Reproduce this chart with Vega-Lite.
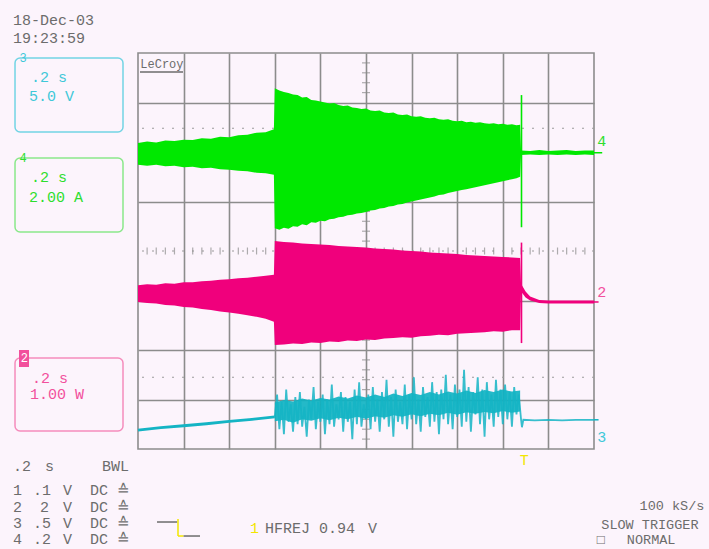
{
  "$schema": "https://vega.github.io/schema/vega-lite/v6.json",
  "width": 456,
  "height": 396,
  "autosize": {"type": "none"},
  "padding": {"left": 138, "top": 53, "right": 115, "bottom": 100},
  "background": "#fcf4fc",
  "config": {
    "view": {"stroke": "#8c8c8c", "strokeWidth": 1.6, "fill": "#fcf4fc"},
    "axis": {"grid": true, "labels": false, "ticks": false, "domain": false, "title": null, "gridColor": "#8c8c8c", "gridWidth": 1.6}
  },
  "datasets": {
    "env": [
      {"s":"g","t":0.0,"lo":5.74,"hi":6.18},{"s":"g","t":0.2,"lo":5.72,"hi":6.21},{"s":"g","t":0.4,"lo":5.74,"hi":6.19},{"s":"g","t":0.6,"lo":5.71,"hi":6.23},{"s":"g","t":0.8,"lo":5.72,"hi":6.22},{"s":"g","t":1.0,"lo":5.69,"hi":6.25},{"s":"g","t":1.2,"lo":5.70,"hi":6.24},{"s":"g","t":1.4,"lo":5.67,"hi":6.28},{"s":"g","t":1.6,"lo":5.68,"hi":6.27},{"s":"g","t":1.8,"lo":5.65,"hi":6.31},{"s":"g","t":2.0,"lo":5.64,"hi":6.30},{"s":"g","t":2.2,"lo":5.62,"hi":6.34},{"s":"g","t":2.4,"lo":5.61,"hi":6.35},{"s":"g","t":2.6,"lo":5.58,"hi":6.39},{"s":"g","t":2.8,"lo":5.57,"hi":6.40},{"s":"g","t":2.98,"lo":5.54,"hi":6.46},
      {"s":"g","t":3.0,"lo":4.46,"hi":7.29},{"s":"g","t":3.1,"lo":4.43,"hi":7.24},{"s":"g","t":3.2,"lo":4.47,"hi":7.21},{"s":"g","t":3.3,"lo":4.45,"hi":7.19},{"s":"g","t":3.4,"lo":4.50,"hi":7.16},{"s":"g","t":3.5,"lo":4.49,"hi":7.15},{"s":"g","t":3.6,"lo":4.54,"hi":7.10},{"s":"g","t":3.7,"lo":4.52,"hi":7.11},{"s":"g","t":3.8,"lo":4.58,"hi":7.05},{"s":"g","t":3.9,"lo":4.57,"hi":7.04},{"s":"g","t":4.0,"lo":4.61,"hi":7.02},{"s":"g","t":4.1,"lo":4.60,"hi":7.00},{"s":"g","t":4.2,"lo":4.64,"hi":6.98},{"s":"g","t":4.3,"lo":4.65,"hi":6.99},{"s":"g","t":4.4,"lo":4.68,"hi":6.95},{"s":"g","t":4.5,"lo":4.69,"hi":6.93},{"s":"g","t":4.6,"lo":4.72,"hi":6.94},{"s":"g","t":4.7,"lo":4.73,"hi":6.90},{"s":"g","t":4.8,"lo":4.76,"hi":6.89},{"s":"g","t":4.9,"lo":4.77,"hi":6.87},{"s":"g","t":5.0,"lo":4.79,"hi":6.88},{"s":"g","t":5.1,"lo":4.82,"hi":6.84},{"s":"g","t":5.2,"lo":4.83,"hi":6.83},{"s":"g","t":5.3,"lo":4.86,"hi":6.84},{"s":"g","t":5.4,"lo":4.87,"hi":6.80},{"s":"g","t":5.5,"lo":4.90,"hi":6.79},{"s":"g","t":5.6,"lo":4.91,"hi":6.80},{"s":"g","t":5.7,"lo":4.94,"hi":6.76},{"s":"g","t":5.8,"lo":4.95,"hi":6.75},{"s":"g","t":5.9,"lo":4.98,"hi":6.76},{"s":"g","t":6.0,"lo":5.00,"hi":6.72},{"s":"g","t":6.1,"lo":5.02,"hi":6.71},{"s":"g","t":6.2,"lo":5.04,"hi":6.72},{"s":"g","t":6.3,"lo":5.06,"hi":6.69},{"s":"g","t":6.4,"lo":5.08,"hi":6.68},{"s":"g","t":6.5,"lo":5.10,"hi":6.69},{"s":"g","t":6.6,"lo":5.13,"hi":6.66},{"s":"g","t":6.7,"lo":5.14,"hi":6.65},{"s":"g","t":6.8,"lo":5.17,"hi":6.66},{"s":"g","t":6.9,"lo":5.19,"hi":6.63},{"s":"g","t":7.0,"lo":5.21,"hi":6.62},{"s":"g","t":7.1,"lo":5.23,"hi":6.63},{"s":"g","t":7.2,"lo":5.25,"hi":6.60},{"s":"g","t":7.3,"lo":5.27,"hi":6.61},{"s":"g","t":7.4,"lo":5.29,"hi":6.59},{"s":"g","t":7.5,"lo":5.31,"hi":6.60},{"s":"g","t":7.6,"lo":5.33,"hi":6.58},{"s":"g","t":7.7,"lo":5.35,"hi":6.57},{"s":"g","t":7.8,"lo":5.37,"hi":6.58},{"s":"g","t":7.9,"lo":5.39,"hi":6.56},{"s":"g","t":8.0,"lo":5.41,"hi":6.57},{"s":"g","t":8.1,"lo":5.43,"hi":6.55},{"s":"g","t":8.2,"lo":5.45,"hi":6.56},{"s":"g","t":8.3,"lo":5.47,"hi":6.54},{"s":"g","t":8.38,"lo":5.50,"hi":6.55},
      {"s":"g","t":8.4,"lo":5.94,"hi":6.03},{"s":"g","t":8.6,"lo":5.95,"hi":6.02},{"s":"g","t":8.8,"lo":5.94,"hi":6.04},{"s":"g","t":9.0,"lo":5.95,"hi":6.02},{"s":"g","t":9.2,"lo":5.94,"hi":6.03},{"s":"g","t":9.4,"lo":5.95,"hi":6.04},{"s":"g","t":9.6,"lo":5.94,"hi":6.02},{"s":"g","t":9.8,"lo":5.95,"hi":6.03},{"s":"g","t":10.0,"lo":5.94,"hi":6.03},
      {"s":"p","t":0.0,"lo":2.97,"hi":3.31},{"s":"p","t":0.2,"lo":2.95,"hi":3.33},{"s":"p","t":0.4,"lo":2.94,"hi":3.32},{"s":"p","t":0.6,"lo":2.91,"hi":3.35},{"s":"p","t":0.8,"lo":2.90,"hi":3.34},{"s":"p","t":1.0,"lo":2.87,"hi":3.37},{"s":"p","t":1.2,"lo":2.86,"hi":3.37},{"s":"p","t":1.4,"lo":2.83,"hi":3.39},{"s":"p","t":1.6,"lo":2.81,"hi":3.40},{"s":"p","t":1.8,"lo":2.78,"hi":3.42},{"s":"p","t":2.0,"lo":2.76,"hi":3.43},{"s":"p","t":2.2,"lo":2.73,"hi":3.45},{"s":"p","t":2.4,"lo":2.70,"hi":3.46},{"s":"p","t":2.6,"lo":2.67,"hi":3.48},{"s":"p","t":2.8,"lo":2.63,"hi":3.50},{"s":"p","t":2.98,"lo":2.57,"hi":3.52},
      {"s":"p","t":3.0,"lo":2.10,"hi":4.20},{"s":"p","t":3.2,"lo":2.11,"hi":4.18},{"s":"p","t":3.4,"lo":2.13,"hi":4.17},{"s":"p","t":3.6,"lo":2.12,"hi":4.15},{"s":"p","t":3.8,"lo":2.15,"hi":4.14},{"s":"p","t":4.0,"lo":2.14,"hi":4.13},{"s":"p","t":4.2,"lo":2.17,"hi":4.12},{"s":"p","t":4.4,"lo":2.16,"hi":4.10},{"s":"p","t":4.6,"lo":2.19,"hi":4.09},{"s":"p","t":4.8,"lo":2.18,"hi":4.08},{"s":"p","t":5.0,"lo":2.21,"hi":4.07},{"s":"p","t":5.2,"lo":2.20,"hi":4.05},{"s":"p","t":5.4,"lo":2.23,"hi":4.04},{"s":"p","t":5.6,"lo":2.24,"hi":4.03},{"s":"p","t":5.8,"lo":2.26,"hi":4.01},{"s":"p","t":6.0,"lo":2.25,"hi":4.00},{"s":"p","t":6.2,"lo":2.28,"hi":3.99},{"s":"p","t":6.4,"lo":2.29,"hi":3.97},{"s":"p","t":6.6,"lo":2.31,"hi":3.96},{"s":"p","t":6.8,"lo":2.30,"hi":3.95},{"s":"p","t":7.0,"lo":2.33,"hi":3.94},{"s":"p","t":7.2,"lo":2.34,"hi":3.92},{"s":"p","t":7.4,"lo":2.35,"hi":3.91},{"s":"p","t":7.6,"lo":2.36,"hi":3.90},{"s":"p","t":7.8,"lo":2.38,"hi":3.89},{"s":"p","t":8.0,"lo":2.37,"hi":3.88},{"s":"p","t":8.2,"lo":2.40,"hi":3.87},{"s":"p","t":8.38,"lo":2.40,"hi":3.86},
      {"s":"p","t":8.4,"lo":3.18,"hi":3.34},{"s":"p","t":8.5,"lo":3.06,"hi":3.18},{"s":"p","t":8.6,"lo":3.00,"hi":3.08},{"s":"p","t":8.8,"lo":2.95,"hi":3.01},{"s":"p","t":9.0,"lo":2.94,"hi":3.00},{"s":"p","t":9.5,"lo":2.94,"hi":3.00},{"s":"p","t":10.0,"lo":2.94,"hi":3.00}
    ],
    "spk": [
      {"s":"g","t":8.41,"lo":4.48,"hi":7.15},
      {"s":"p","t":8.41,"lo":2.14,"hi":4.17}
    ],
    "cyband": [
      {"t":3.0,"lo":0.56,"hi":0.94},{"t":3.2,"lo":0.59,"hi":0.99},{"t":3.4,"lo":0.53,"hi":0.96},{"t":3.6,"lo":0.60,"hi":1.02},{"t":3.8,"lo":0.57,"hi":0.98},{"t":4.0,"lo":0.62,"hi":1.03},{"t":4.2,"lo":0.58,"hi":1.00},{"t":4.4,"lo":0.63,"hi":1.06},{"t":4.6,"lo":0.60,"hi":1.02},{"t":4.8,"lo":0.65,"hi":1.08},{"t":5.0,"lo":0.61,"hi":1.04},{"t":5.2,"lo":0.66,"hi":1.10},{"t":5.4,"lo":0.63,"hi":1.05},{"t":5.6,"lo":0.68,"hi":1.12},{"t":5.8,"lo":0.65,"hi":1.07},{"t":6.0,"lo":0.70,"hi":1.13},{"t":6.2,"lo":0.66,"hi":1.09},{"t":6.4,"lo":0.71,"hi":1.15},{"t":6.6,"lo":0.68,"hi":1.10},{"t":6.8,"lo":0.73,"hi":1.16},{"t":7.0,"lo":0.69,"hi":1.12},{"t":7.2,"lo":0.74,"hi":1.18},{"t":7.4,"lo":0.71,"hi":1.13},{"t":7.6,"lo":0.75,"hi":1.19},{"t":7.8,"lo":0.72,"hi":1.15},{"t":8.0,"lo":0.77,"hi":1.20},{"t":8.2,"lo":0.73,"hi":1.16},{"t":8.38,"lo":0.76,"hi":1.18}
    ],
    "cypre": [
      {"t":0.0,"v":0.38},{"t":0.5,"v":0.43},{"t":1.0,"v":0.47},{"t":1.5,"v":0.51},{"t":2.0,"v":0.56},{"t":2.5,"v":0.60},{"t":3.0,"v":0.65}
    ],
    "cy": [
      {"t":3.0,"v":0.65},
      {"t":3.05,"v":1.10},{"t":3.10,"v":0.40},{"t":3.15,"v":0.95},{"t":3.20,"v":0.30},{"t":3.25,"v":1.20},{"t":3.30,"v":0.55},{"t":3.35,"v":0.90},{"t":3.40,"v":0.35},{"t":3.45,"v":1.05},{"t":3.50,"v":0.50},{"t":3.55,"v":1.15},{"t":3.60,"v":0.45},{"t":3.65,"v":0.85},{"t":3.70,"v":0.25},{"t":3.75,"v":1.00},{"t":3.80,"v":0.60},{"t":3.85,"v":1.25},{"t":3.90,"v":0.40},{"t":3.95,"v":0.95},
      {"t":4.00,"v":0.55},{"t":4.05,"v":1.10},{"t":4.10,"v":0.30},{"t":4.15,"v":1.00},{"t":4.20,"v":0.50},{"t":4.25,"v":1.30},{"t":4.30,"v":0.45},{"t":4.35,"v":0.90},{"t":4.40,"v":0.60},{"t":4.45,"v":1.15},{"t":4.50,"v":0.35},{"t":4.55,"v":1.05},{"t":4.60,"v":0.55},{"t":4.65,"v":0.95},{"t":4.70,"v":0.20},{"t":4.75,"v":1.20},{"t":4.80,"v":0.50},{"t":4.85,"v":1.35},{"t":4.90,"v":0.45},{"t":4.95,"v":0.90},
      {"t":5.00,"v":0.60},{"t":5.05,"v":1.10},{"t":5.10,"v":0.40},{"t":5.15,"v":1.25},{"t":5.20,"v":0.55},{"t":5.25,"v":1.00},{"t":5.30,"v":0.35},{"t":5.35,"v":1.15},{"t":5.40,"v":0.60},{"t":5.45,"v":1.40},{"t":5.50,"v":0.45},{"t":5.55,"v":1.05},{"t":5.60,"v":0.25},{"t":5.65,"v":1.20},{"t":5.70,"v":0.55},{"t":5.75,"v":0.95},{"t":5.80,"v":0.50},{"t":5.85,"v":1.30},{"t":5.90,"v":0.40},{"t":5.95,"v":1.10},
      {"t":6.00,"v":0.60},{"t":6.05,"v":1.45},{"t":6.10,"v":0.50},{"t":6.15,"v":1.00},{"t":6.20,"v":0.35},{"t":6.25,"v":1.25},{"t":6.30,"v":0.65},{"t":6.35,"v":1.05},{"t":6.40,"v":0.45},{"t":6.45,"v":1.35},{"t":6.50,"v":0.55},{"t":6.55,"v":1.15},{"t":6.60,"v":0.30},{"t":6.65,"v":1.20},{"t":6.70,"v":0.60},{"t":6.75,"v":1.50},{"t":6.80,"v":0.50},{"t":6.85,"v":1.10},{"t":6.90,"v":0.40},{"t":6.95,"v":1.30},
      {"t":7.00,"v":0.65},{"t":7.05,"v":1.20},{"t":7.10,"v":0.45},{"t":7.15,"v":1.60},{"t":7.20,"v":0.55},{"t":7.25,"v":1.25},{"t":7.30,"v":0.35},{"t":7.35,"v":1.15},{"t":7.40,"v":0.70},{"t":7.45,"v":1.45},{"t":7.50,"v":0.50},{"t":7.55,"v":1.20},{"t":7.60,"v":0.25},{"t":7.65,"v":1.35},{"t":7.70,"v":0.60},{"t":7.75,"v":1.10},{"t":7.80,"v":0.45},{"t":7.85,"v":1.40},{"t":7.90,"v":0.65},{"t":7.95,"v":1.20},
      {"t":8.00,"v":0.50},{"t":8.05,"v":1.30},{"t":8.10,"v":0.60},{"t":8.15,"v":1.15},{"t":8.20,"v":0.45},{"t":8.25,"v":1.25},{"t":8.30,"v":0.70},{"t":8.35,"v":1.10},{"t":8.40,"v":0.60},
      {"t":8.42,"v":0.44},{"t":8.45,"v":0.59},{"t":8.7,"v":0.58},{"t":9.0,"v":0.59},{"t":9.3,"v":0.58},{"t":9.6,"v":0.59},{"t":10.0,"v":0.59}
    ],
    "dots": [{"y":6.48},{"y":4.0},{"y":1.45}],
    "vt": [{"y":0.2},{"y":0.4},{"y":0.6},{"y":0.8},{"y":1.2},{"y":1.4},{"y":1.6},{"y":1.8},{"y":2.2},{"y":2.4},{"y":2.6},{"y":2.8},{"y":3.2},{"y":3.4},{"y":3.6},{"y":3.8},{"y":4.0},{"y":4.2},{"y":4.4},{"y":4.6},{"y":4.8},{"y":5.2},{"y":5.4},{"y":5.6},{"y":5.8},{"y":6.2},{"y":6.4},{"y":6.6},{"y":6.8},{"y":7.2},{"y":7.4},{"y":7.6},{"y":7.8}],
    "ht": [{"x":0.2},{"x":0.4},{"x":0.6},{"x":0.8},{"x":1.2},{"x":1.4},{"x":1.6},{"x":1.8},{"x":2.2},{"x":2.4},{"x":2.6},{"x":2.8},{"x":3.2},{"x":3.4},{"x":3.6},{"x":3.8},{"x":4.2},{"x":4.4},{"x":4.6},{"x":4.8},{"x":5.2},{"x":5.4},{"x":5.6},{"x":5.8},{"x":6.2},{"x":6.4},{"x":6.6},{"x":6.8},{"x":7.2},{"x":7.4},{"x":7.6},{"x":7.8},{"x":8.2},{"x":8.4},{"x":8.6},{"x":8.8},{"x":9.2},{"x":9.4},{"x":9.6},{"x":9.8}],
    "boxes": [
      {"x":-2.697,"x2":-0.329,"y":7.899,"y2":6.404,"g":"cb"},
      {"x":-2.697,"x2":-0.329,"y":5.879,"y2":4.384,"g":"gb"},
      {"x":-2.697,"x2":-0.329,"y":1.838,"y2":0.364,"g":"pb"}
    ],
    "segs": [
      {"x":0.044,"x2":0.987,"y":7.616,"y2":7.616,"g":"k"},
      {"x":0.417,"x2":0.86,"y":-1.475,"y2":-1.475,"g":"k"},
      {"x":0.877,"x2":0.877,"y":-1.414,"y2":-1.758,"g":"y"},
      {"x":0.877,"x2":1.0,"y":-1.758,"y2":-1.758,"g":"y"},
      {"x":1.0,"x2":1.36,"y":-1.758,"y2":-1.758,"g":"k"},
      {"x":10.0,"x2":10.18,"y":5.985,"y2":5.985,"g":"g"},
      {"x":10.0,"x2":10.1,"y":2.97,"y2":2.97,"g":"p"},
      {"x":10.0,"x2":10.1,"y":0.59,"y2":0.59,"g":"c"}
    ],
    "txt": [
      {"x":-2.741,"y":8.667,"label":"18-Dec-03","g":"k"},
      {"x":-2.741,"y":8.303,"label":"19:23:59","g":"k"},
      {"x":-2.346,"y":7.515,"label":".2 s","g":"ct"},
      {"x":-2.390,"y":7.131,"label":"5.0 V","g":"ct"},
      {"x":-2.346,"y":5.495,"label":".2 s","g":"gt"},
      {"x":-2.390,"y":5.091,"label":"2.00 A","g":"gt"},
      {"x":-2.325,"y":1.434,"label":".2 s","g":"pt"},
      {"x":-2.368,"y":1.111,"label":"1.00 W","g":"pt"},
      {"x":10.07,"y":6.222,"label":"4","g":"gt"},
      {"x":10.07,"y":3.172,"label":"2","g":"pt"},
      {"x":10.07,"y":0.242,"label":"3","g":"ct"},
      {"x":8.37,"y":-0.222,"label":"T","g":"y"},
      {"x":-2.741,"y":-0.343,"label":".2","g":"k"},
      {"x":-2.039,"y":-0.343,"label":"s","g":"k"},
      {"x":-0.789,"y":-0.343,"label":"BWL","g":"k"},
      {"x":-2.741,"y":-0.828,"label":"1","g":"k"},
      {"x":-2.303,"y":-0.828,"label":".1","g":"k"},
      {"x":-1.645,"y":-0.828,"label":"V","g":"k"},
      {"x":-1.053,"y":-0.828,"label":"DC","g":"k"},
      {"x":-0.461,"y":-0.828,"label":"≙","g":"k"},
      {"x":-2.741,"y":-1.162,"label":"2","g":"k"},
      {"x":-2.150,"y":-1.162,"label":"2","g":"k"},
      {"x":-1.645,"y":-1.162,"label":"V","g":"k"},
      {"x":-1.053,"y":-1.162,"label":"DC","g":"k"},
      {"x":-0.461,"y":-1.162,"label":"≙","g":"k"},
      {"x":-2.741,"y":-1.485,"label":"3","g":"k"},
      {"x":-2.303,"y":-1.485,"label":".5","g":"k"},
      {"x":-1.645,"y":-1.485,"label":"V","g":"k"},
      {"x":-1.053,"y":-1.485,"label":"DC","g":"k"},
      {"x":-0.461,"y":-1.485,"label":"≙","g":"k"},
      {"x":-2.741,"y":-1.81,"label":"4","g":"k"},
      {"x":-2.303,"y":-1.81,"label":".2","g":"k"},
      {"x":-1.645,"y":-1.81,"label":"V","g":"k"},
      {"x":-1.053,"y":-1.81,"label":"DC","g":"k"},
      {"x":-0.461,"y":-1.81,"label":"≙","g":"k"},
      {"x":2.456,"y":-1.596,"label":"1","g":"y"},
      {"x":2.785,"y":-1.596,"label":"HFREJ 0.94","g":"k"},
      {"x":5.044,"y":-1.596,"label":"V","g":"k"}
    ],
    "right": [
      {"x":11.0,"y":-1.16,"label":"100 kS/s","g":"k"},
      {"x":10.16,"y":-1.54,"label":"SLOW TRIGGER","g":"k"},
      {"x":10.06,"y":-1.83,"label":"□","g":"k"},
      {"x":10.72,"y":-1.84,"label":"NORMAL","g":"k"}
    ],
    "small": [
      {"x":0.05,"y":7.778,"label":"LeCroy","g":"k"},
      {"x":-2.6,"y":7.899,"label":"3","g":"ct"},
      {"x":-2.6,"y":5.879,"label":"4","g":"gt"},
      {"x":-2.57,"y":1.838,"label":"2","g":"w"}
    ]
  },
  "layer": [
    {
      "data": {"name": "dots"},
      "mark": {"type": "rule", "strokeDash": [2, 8], "color": "#9a9a9a", "strokeWidth": 1.2},
      "encoding": {
        "y": {"field": "y", "type": "quantitative", "scale": {"domain": [0, 8], "nice": false}, "axis": {"values": [1, 2, 3, 5, 6, 7]}}
      }
    },
    {
      "data": {"name": "vt"},
      "mark": {"type": "tick", "orient": "horizontal", "size": 8, "thickness": 1.2, "color": "#8c8c8c"},
      "encoding": {
        "x": {"datum": 5, "type": "quantitative", "scale": {"domain": [0, 10], "nice": false}, "axis": {"values": [1, 2, 3, 4, 5, 6, 7, 8, 9]}},
        "y": {"field": "y", "type": "quantitative", "scale": {"domain": [0, 8], "nice": false}, "axis": {"values": [1, 2, 3, 5, 6, 7]}}
      }
    },
    {
      "data": {"name": "ht"},
      "mark": {"type": "tick", "orient": "vertical", "size": 7, "thickness": 1.2, "color": "#8c8c8c"},
      "encoding": {
        "x": {"field": "x", "type": "quantitative", "scale": {"domain": [0, 10], "nice": false}, "axis": {"values": [1, 2, 3, 4, 5, 6, 7, 8, 9]}},
        "y": {"datum": 4, "type": "quantitative", "scale": {"domain": [0, 8], "nice": false}, "axis": {"values": [1, 2, 3, 5, 6, 7]}}
      }
    },
    {
      "data": {"name": "env"},
      "mark": {"type": "area", "interpolate": "linear"},
      "encoding": {
        "x": {"field": "t", "type": "quantitative", "scale": {"domain": [0, 10], "nice": false}, "axis": {"values": [1, 2, 3, 4, 5, 6, 7, 8, 9]}},
        "y": {"field": "lo", "type": "quantitative", "scale": {"domain": [0, 8], "nice": false}, "axis": {"values": [1, 2, 3, 5, 6, 7]}},
        "y2": {"field": "hi"},
        "color": {"field": "s", "type": "nominal", "legend": null,
                  "scale": {"domain": ["g","p","c","gb","pb","cb","gt","pt","ct","k","y","w"], "range": ["#00e800","#f0007c","#0cb2c2","#8ae88a","#f58cbc","#72d4e4","#2ede2e","#f2509c","#40c8d8","#6c6c6c","#f2e600","#ffffff"]}}
      }
    },
    {
      "data": {"name": "spk"},
      "mark": {"type": "rule", "strokeWidth": 1.6},
      "encoding": {
        "x": {"field": "t", "type": "quantitative", "scale": {"domain": [0, 10], "nice": false}, "axis": {"values": [1, 2, 3, 4, 5, 6, 7, 8, 9]}},
        "y": {"field": "lo", "type": "quantitative", "scale": {"domain": [0, 8], "nice": false}, "axis": {"values": [1, 2, 3, 5, 6, 7]}},
        "y2": {"field": "hi"},
        "color": {"field": "s", "type": "nominal", "legend": null,
                  "scale": {"domain": ["g","p","c","gb","pb","cb","gt","pt","ct","k","y","w"], "range": ["#00e800","#f0007c","#0cb2c2","#8ae88a","#f58cbc","#72d4e4","#2ede2e","#f2509c","#40c8d8","#6c6c6c","#f2e600","#ffffff"]}}
      }
    },
    {
      "data": {"name": "cyband"},
      "mark": {"type": "area", "color": "#0cb2c2", "opacity": 0.9},
      "encoding": {
        "x": {"field": "t", "type": "quantitative", "scale": {"domain": [0, 10], "nice": false}, "axis": {"values": [1, 2, 3, 4, 5, 6, 7, 8, 9]}},
        "y": {"field": "lo", "type": "quantitative", "scale": {"domain": [0, 8], "nice": false}, "axis": {"values": [1, 2, 3, 5, 6, 7]}},
        "y2": {"field": "hi"}
      }
    },
    {
      "data": {"name": "cypre"},
      "mark": {"type": "line", "color": "#14b4c4", "strokeWidth": 2.8},
      "encoding": {
        "x": {"field": "t", "type": "quantitative", "scale": {"domain": [0, 10], "nice": false}, "axis": {"values": [1, 2, 3, 4, 5, 6, 7, 8, 9]}},
        "y": {"field": "v", "type": "quantitative", "scale": {"domain": [0, 8], "nice": false}, "axis": {"values": [1, 2, 3, 5, 6, 7]}}
      }
    },
    {
      "data": {"name": "cy"},
      "mark": {"type": "line", "color": "#14b4c4", "strokeWidth": 1.8, "opacity": 0.85},
      "encoding": {
        "x": {"field": "t", "type": "quantitative", "scale": {"domain": [0, 10], "nice": false}, "axis": {"values": [1, 2, 3, 4, 5, 6, 7, 8, 9]}},
        "y": {"field": "v", "type": "quantitative", "scale": {"domain": [0, 8], "nice": false}, "axis": {"values": [1, 2, 3, 5, 6, 7]}}
      }
    },
    {
      "data": {"name": "boxes"},
      "mark": {"type": "rect", "filled": false, "cornerRadius": 5, "strokeWidth": 1.5},
      "encoding": {
        "x": {"field": "x", "type": "quantitative", "scale": {"domain": [0, 10], "nice": false}, "axis": {"values": [1, 2, 3, 4, 5, 6, 7, 8, 9]}},
        "x2": {"field": "x2"},
        "y": {"field": "y", "type": "quantitative", "scale": {"domain": [0, 8], "nice": false}, "axis": {"values": [1, 2, 3, 5, 6, 7]}},
        "y2": {"field": "y2"},
        "color": {"field": "g", "type": "nominal", "legend": null,
                  "scale": {"domain": ["g","p","c","gb","pb","cb","gt","pt","ct","k","y","w"], "range": ["#00e800","#f0007c","#0cb2c2","#8ae88a","#f58cbc","#72d4e4","#2ede2e","#f2509c","#40c8d8","#6c6c6c","#f2e600","#ffffff"]}}
      }
    },
    {
      "data": {"values": [{"x": -2.610, "x2": -2.390, "y": 2.0, "y2": 1.657}]},
      "mark": {"type": "rect", "color": "#f2509c"},
      "encoding": {
        "x": {"field": "x", "type": "quantitative", "scale": {"domain": [0, 10], "nice": false}, "axis": {"values": [1, 2, 3, 4, 5, 6, 7, 8, 9]}},
        "x2": {"field": "x2"},
        "y": {"field": "y", "type": "quantitative", "scale": {"domain": [0, 8], "nice": false}, "axis": {"values": [1, 2, 3, 5, 6, 7]}},
        "y2": {"field": "y2"}
      }
    },
    {
      "data": {"name": "segs"},
      "mark": {"type": "rule", "strokeWidth": 1.5},
      "encoding": {
        "x": {"field": "x", "type": "quantitative", "scale": {"domain": [0, 10], "nice": false}, "axis": {"values": [1, 2, 3, 4, 5, 6, 7, 8, 9]}},
        "x2": {"field": "x2"},
        "y": {"field": "y", "type": "quantitative", "scale": {"domain": [0, 8], "nice": false}, "axis": {"values": [1, 2, 3, 5, 6, 7]}},
        "y2": {"field": "y2"},
        "color": {"field": "g", "type": "nominal", "legend": null,
                  "scale": {"domain": ["g","p","c","gb","pb","cb","gt","pt","ct","k","y","w"], "range": ["#00e800","#f0007c","#0cb2c2","#8ae88a","#f58cbc","#72d4e4","#2ede2e","#f2509c","#40c8d8","#6c6c6c","#f2e600","#ffffff"]}}
      }
    },
    {
      "data": {"name": "txt"},
      "mark": {"type": "text", "align": "left", "baseline": "middle", "font": "Liberation Mono", "fontSize": 15},
      "encoding": {
        "x": {"field": "x", "type": "quantitative", "scale": {"domain": [0, 10], "nice": false}, "axis": {"values": [1, 2, 3, 4, 5, 6, 7, 8, 9]}},
        "y": {"field": "y", "type": "quantitative", "scale": {"domain": [0, 8], "nice": false}, "axis": {"values": [1, 2, 3, 5, 6, 7]}},
        "text": {"field": "label"},
        "color": {"field": "g", "type": "nominal", "legend": null,
                  "scale": {"domain": ["g","p","c","gb","pb","cb","gt","pt","ct","k","y","w"], "range": ["#00e800","#f0007c","#0cb2c2","#8ae88a","#f58cbc","#72d4e4","#2ede2e","#f2509c","#40c8d8","#6c6c6c","#f2e600","#ffffff"]}}
      }
    },
    {
      "data": {"name": "right"},
      "mark": {"type": "text", "align": "left", "baseline": "middle", "font": "Liberation Mono", "fontSize": 13.5},
      "encoding": {
        "x": {"field": "x", "type": "quantitative", "scale": {"domain": [0, 10], "nice": false}, "axis": {"values": [1, 2, 3, 4, 5, 6, 7, 8, 9]}},
        "y": {"field": "y", "type": "quantitative", "scale": {"domain": [0, 8], "nice": false}, "axis": {"values": [1, 2, 3, 5, 6, 7]}},
        "text": {"field": "label"},
        "color": {"field": "g", "type": "nominal", "legend": null,
                  "scale": {"domain": ["g","p","c","gb","pb","cb","gt","pt","ct","k","y","w"], "range": ["#00e800","#f0007c","#0cb2c2","#8ae88a","#f58cbc","#72d4e4","#2ede2e","#f2509c","#40c8d8","#6c6c6c","#f2e600","#ffffff"]}}
      }
    },
    {
      "data": {"name": "small"},
      "mark": {"type": "text", "align": "left", "baseline": "middle", "font": "Liberation Mono", "fontSize": 12},
      "encoding": {
        "x": {"field": "x", "type": "quantitative", "scale": {"domain": [0, 10], "nice": false}, "axis": {"values": [1, 2, 3, 4, 5, 6, 7, 8, 9]}},
        "y": {"field": "y", "type": "quantitative", "scale": {"domain": [0, 8], "nice": false}, "axis": {"values": [1, 2, 3, 5, 6, 7]}},
        "text": {"field": "label"},
        "color": {"field": "g", "type": "nominal", "legend": null,
                  "scale": {"domain": ["g","p","c","gb","pb","cb","gt","pt","ct","k","y","w"], "range": ["#00e800","#f0007c","#0cb2c2","#8ae88a","#f58cbc","#72d4e4","#2ede2e","#f2509c","#40c8d8","#6c6c6c","#f2e600","#ffffff"]}}
      }
    }
  ]
}
